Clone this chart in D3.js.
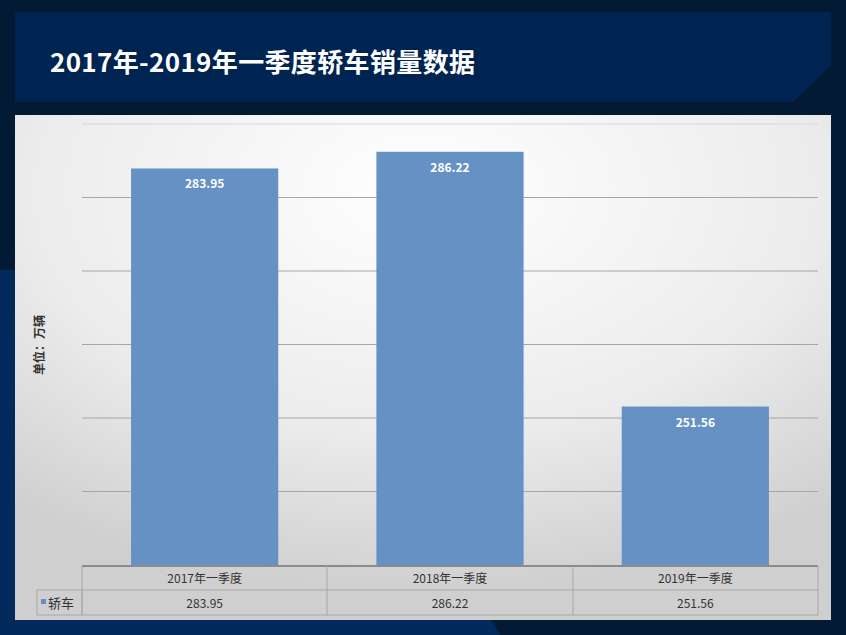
<!DOCTYPE html>
<html><head><meta charset="utf-8">
<script src="https://cdn.jsdelivr.net/npm/d3@7"></script>
<style>body{margin:0;background:#021a33;}svg{display:block;}</style>
</head><body>
<div id="chart"></div>
<script>
var width = 846, height = 635;
var categories = ["2017年一季度", "2018年一季度", "2019年一季度"];
var values = [283.95, 286.22, 251.56];
var seriesName = "轿车";
var yTicks = [230, 240, 250, 260, 270, 280, 290];

var svg = d3.select("#chart").append("svg").attr("width", width).attr("height", height);
var font = "'Noto Sans CJK SC', 'Microsoft YaHei', sans-serif";

// background
svg.append("rect").attr("width", width).attr("height", height).attr("fill", "#021a33");
svg.append("path").attr("d", "M0,270 L200,270 L300,300 L500,635 L0,635 Z").attr("fill", "#022a5c");

// title banner
svg.append("path").attr("d", "M15,12 L831,12 L831,65 L793,102 L15,102 Z").attr("fill", "#002451");
svg.append("text").attr("x", 50).attr("y", 72).attr("fill", "#fff")
    .attr("font-family", font).attr("font-weight", "bold").attr("font-size", 26)
    .attr("textLength", 425)
    .text("2017年-2019年一季度轿车销量数据");

// panel gradient
var defs = svg.append("defs");
var g1 = defs.append("radialGradient").attr("id", "bg").attr("cx", "50%").attr("cy", "15%").attr("r", "80%");
g1.append("stop").attr("offset", "0%").attr("stop-color", "#ffffff");
g1.append("stop").attr("offset", "60%").attr("stop-color", "#ececec");
g1.append("stop").attr("offset", "100%").attr("stop-color", "#cfcfcf");
svg.append("rect").attr("x", 15).attr("y", 115).attr("width", 816).attr("height", 505).attr("fill", "url(#bg)");

var x = d3.scaleBand().domain(categories).range([82, 818]).paddingInner(0.4).paddingOuter(0.2);
var y = d3.scaleLinear().domain([230, 290]).range([565, 124]);

svg.append("g").selectAll("line").data(yTicks.slice(1)).enter().append("line")
    .attr("x1", 82).attr("x2", 818).attr("y1", function(d){ return y(d); }).attr("y2", function(d){ return y(d); })
    .attr("stroke", function(d){ return d === 290 ? "#d8d8d8" : "#a6a6a6"; }).attr("stroke-width", 1);

svg.append("g").selectAll("rect").data(values).enter().append("rect")
    .attr("x", function(d, i){ return x(categories[i]); })
    .attr("y", function(d){ return y(d); })
    .attr("width", x.bandwidth())
    .attr("height", function(d){ return y(230) - y(d); })
    .attr("fill", "#6591c5");

svg.append("g").selectAll("text").data(values).enter().append("text")
    .attr("x", function(d, i){ return x(categories[i]) + x.bandwidth() / 2; })
    .attr("y", function(d){ return y(d) + 20; })
    .attr("text-anchor", "middle").attr("fill", "#fff").attr("font-weight", "bold")
    .attr("font-family", font).attr("font-size", 12)
    .text(function(d){ return d.toFixed(2); });

svg.append("text").attr("transform", "translate(44,345) rotate(-90)")
    .attr("text-anchor", "middle").attr("font-family", font).attr("font-weight", "bold")
    .attr("font-size", 12).attr("fill", "#333").text("单位：万辆");

// data table
var tbl = svg.append("g");
tbl.append("line").attr("x1", 82).attr("x2", 818).attr("y1", 566).attr("y2", 566).attr("stroke", "#6f6f6f").attr("stroke-width", 2);
tbl.append("rect").attr("x", 82).attr("y", 566).attr("width", 736).attr("height", 49).attr("fill", "none").attr("stroke", "#a8a8a8");
tbl.append("rect").attr("x", 37).attr("y", 590).attr("width", 45).attr("height", 25).attr("fill", "none").attr("stroke", "#a8a8a8");
tbl.append("line").attr("x1", 82).attr("x2", 818).attr("y1", 590).attr("y2", 590).attr("stroke", "#a8a8a8");
[327, 573].forEach(function(xx){
  tbl.append("line").attr("x1", xx).attr("x2", xx).attr("y1", 566).attr("y2", 615).attr("stroke", "#a8a8a8");
});
categories.forEach(function(c, i){
  var cx = x(c) + x.bandwidth() / 2;
  tbl.append("text").attr("x", cx).attr("y", 583).attr("text-anchor", "middle")
     .attr("font-family", font).attr("font-size", 12).attr("fill", "#333").text(c);
  tbl.append("text").attr("x", cx).attr("y", 608).attr("text-anchor", "middle")
     .attr("font-family", font).attr("font-size", 12).attr("fill", "#333").text(values[i].toFixed(2));
});
tbl.append("rect").attr("x", 41).attr("y", 599).attr("width", 5).attr("height", 5).attr("fill", "#6591c5");
tbl.append("text").attr("x", 48).attr("y", 608).attr("font-family", font).attr("font-size", 13)
   .attr("fill", "#333").text(seriesName);
</script>
</body></html>
